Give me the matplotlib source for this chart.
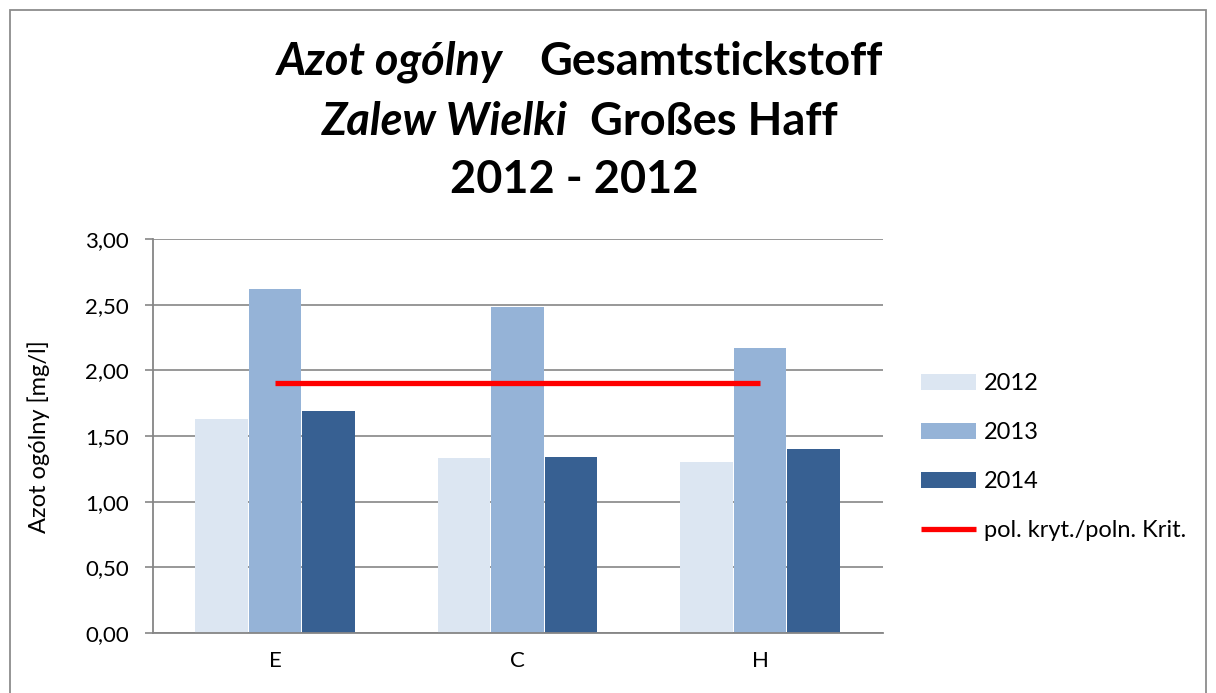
import matplotlib
matplotlib.use("Agg")
import matplotlib.pyplot as plt
import numpy as np
from matplotlib.patches import Rectangle

categories = ["E", "C", "H"]
series_names = ["2012", "2013", "2014"]
v2012 = [1.63, 1.33, 1.30]
v2013 = [2.62, 2.48, 2.17]
v2014 = [1.69, 1.34, 1.40]
criterion = [1.90, 1.90, 1.90]
crit_label = "pol. kryt./poln. Krit."
yticks = [0.0, 0.5, 1.0, 1.5, 2.0, 2.5, 3.0]
colors = ["#DCE6F2", "#95B3D7", "#376092"]

plt.rcParams['font.family'] = ['Lato', 'DejaVu Sans']

W, H = 1216, 693
fig = plt.figure(figsize=(W/100, H/100), dpi=100)

def fx(px): return px / W
def fy(py): return 1 - py / H

# outer border
fig.patches.append(Rectangle((fx(10), fy(700)), fx(1206) - fx(10), fy(10) - fy(700),
                             transform=fig.transFigure, fill=False, edgecolor="#8c8c8c", lw=1.3))

AX_L, AX_R, AX_T, AX_B = 153, 883, 239, 633
ax = fig.add_axes([fx(AX_L), fy(AX_B), fx(AX_R) - fx(AX_L), fy(AX_T) - fy(AX_B)])
x = np.arange(len(categories))
bw = 0.217
bars = []
for i, (vals, c, n) in enumerate(zip([v2012, v2013, v2014], colors, series_names)):
    b = ax.bar(x + (i - 1) * (bw + 0.004), vals, width=bw, color=c, edgecolor="none", label=n, zorder=2)
    bars.append(b)
line, = ax.plot(x, criterion, color="#FF0000", lw=3.8, label=crit_label, zorder=3, solid_capstyle="butt")

ax.set_xlim(-0.503, 2.507)
ax.set_ylim(0, 3.0)
ax.set_yticks(yticks)
ax.set_yticklabels([f"{t:.2f}".replace(".", ",") for t in yticks], fontsize=16)
ax.set_xticks(x)
ax.set_xticklabels(categories, fontsize=16)
ax.tick_params(axis="x", length=0, pad=13)
ax.tick_params(axis="y", length=5.8, width=1.2, color="#868686", pad=11.5)
ax.grid(axis="y", color="#868686", lw=1.2, zorder=0)
for s in ["top", "right"]:
    ax.spines[s].set_visible(False)
for s in ["left", "bottom"]:
    ax.spines[s].set_color("#868686")
    ax.spines[s].set_linewidth(1.3)
ax.spines["bottom"].set_zorder(4)
ax.set_ylabel("Azot ogólny [mg/l]", fontsize=17)
ax.yaxis.set_label_coords((50 - AX_L) / (AX_R - AX_L), (AX_B - 437) / (AX_B - AX_T))

# title
tfs = 32.5
fig.text(fx(503), fy(62), "Azot ogólny", fontsize=tfs, fontweight="bold", style="italic", ha="right", va="center")
fig.text(fx(539), fy(62), "Gesamtstickstoff", fontsize=tfs, fontweight="bold", ha="left", va="center")
fig.text(fx(568), fy(122), "Zalew Wielki", fontsize=tfs, fontweight="bold", style="italic", ha="right", va="center")
fig.text(fx(590), fy(122), "Großes Haff", fontsize=tfs, fontweight="bold", ha="left", va="center")
fig.text(fx(574), fy(180), "2012 - 2012", fontsize=tfs, fontweight="bold", ha="center", va="center")

# legend
handles = [bars[0], bars[1], bars[2], line]
labels = series_names + [crit_label]
leg = fig.legend(handles, labels, loc="upper left", bbox_to_anchor=(fx(900), fy(352)),
                 frameon=False, fontsize=17, handlelength=2.3, handleheight=0.65,
                 labelspacing=1.18, handletextpad=0.35)

fig.savefig("out.png", dpi=100)
